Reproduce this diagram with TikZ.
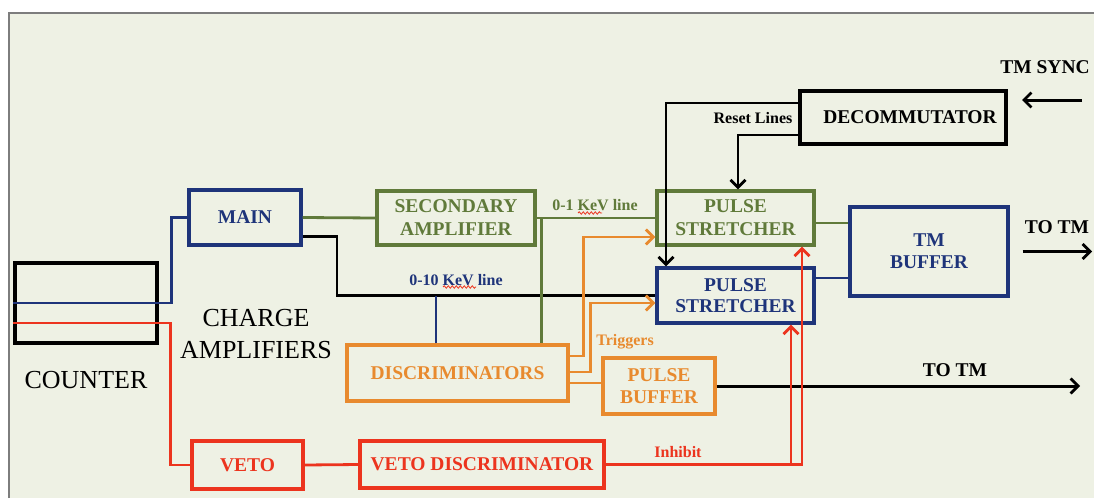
\documentclass[tikz,border=0pt]{standalone}
\usepackage{fontspec}
\setmainfont{Liberation Serif}
\usetikzlibrary{arrows.meta,decorations.pathmorphing}

\definecolor{bggreen}{RGB}{238,241,228}
\definecolor{framegray}{RGB}{125,125,125}
\definecolor{dgreen}{RGB}{96,122,58}
\definecolor{dblue}{RGB}{30,52,122}
\definecolor{dorange}{RGB}{232,138,46}
\definecolor{dred}{RGB}{236,52,30}

\newcommand{\boxfont}{\fontsize{19.5}{23}\selectfont\bfseries}
\newcommand{\labfont}{\fontsize{16}{19}\selectfont\bfseries}

\begin{document}
\begin{tikzpicture}[x=1pt,y=-1pt,
    blk/.style={draw,line width=3.2pt,inner sep=0pt,align=center,font=\boxfont},
    wire/.style={line width=2.8pt},
    tip/.style={-{Straight Barb[length=7.5pt,width=15pt,line width=2.8pt]}},
    lab/.style={font=\labfont,inner sep=0pt},
    squig/.style={dred,line width=0.8pt,decorate,decoration={snake,amplitude=1.2pt,segment length=4pt}}]
    \useasboundingbox (0,0) rectangle (1094,498);
    %background and frame
    \fill [bggreen] (9,13) rectangle (1094,498);
    \draw [framegray,line width=1.5pt] (9,498) -- (9,13) -- (1094,13);

    %boxes
    \node [blk,minimum width=142pt,minimum height=80pt] (counter) at (86,303) {};
    \node [blk,dblue,minimum width=112pt,minimum height=55pt] (main) at (245,217.5) {MAIN};
    \node [blk,dgreen,minimum width=158pt,minimum height=54pt] (secamp) at (456,218) {SECONDARY\\[0pt]AMPLIFIER};
    \node [blk,dorange,minimum width=221pt,minimum height=56pt] (disc) at (457.5,373) {DISCRIMINATORS};
    \node [blk,dorange,minimum width=112pt,minimum height=56pt] (pbuf) at (659,386) {PULSE\\[-1pt]BUFFER};
    \node [blk,dred,minimum width=111pt,minimum height=48pt] (veto) at (247.5,465) {\raisebox{-6pt}{VETO}};
    \node [blk,dred,minimum width=244pt,minimum height=47pt] (vdisc) at (482,464.5) {VETO DISCRIMINATOR};
    \node [blk,dgreen,minimum width=157pt,minimum height=54pt] (psg) at (735.5,218) {PULSE\\[0pt]STRETCHER};
    \node [blk,dblue,minimum width=157pt,minimum height=55pt] (psb) at (735.5,295.5) {PULSE\\[-2pt]STRETCHER};
    \node [blk,dblue,minimum width=158pt,minimum height=89pt] (tmbuf) at (929,251.5) {TM\\[-1pt]BUFFER};
    \node [blk,minimum width=206pt,minimum height=53pt] (decom) at (903,117.5) {\hspace*{14pt}DECOMMUTATOR};

    %plain texts
    \node [font=\fontsize{26}{32}\selectfont] (ctext) at (86,380) {COUNTER};
    \node [font=\fontsize{26}{32}\selectfont,align=center] (catext) at (256,334) {CHARGE\\AMPLIFIERS};
    \node [lab,dgreen] (kev1) at (595,205) {0-1 KeV line};
    \node [lab,dblue] (kev10) at (456,280) {0-10 KeV line};
    \node [lab,dorange] (trig) at (625,342) {Triggers};
    \node [lab,dred] (inh) at (678,452) {Inhibit};
    \node [lab] (reset) at (753,118) {Reset Lines};
    \node [font=\boxfont] (synctext) at (1045,67) {TM SYNC};
    \node [font=\boxfont] (totmtext1) at (1057,227) {TO TM};
    \node [font=\boxfont] (totmtext2) at (955,370) {TO TM};
    \draw [squig] (578,213) -- (602,213);
    \draw [squig] (443,287) -- (476,287);

    %free ends
    \coordinate (k10) at (337,295.5);
    \coordinate (syncin) at (1082,100);
    \coordinate (syncout) at (1022,100);
    \coordinate (totm1) at (1092,251.5);
    \coordinate (totm2) at (1080,386);

    %charge amplifiers
    \draw [wire,dblue] (counter.west) -| ([xshift=-16pt]main.west) -- (main.west);
    \draw [wire,dred] ([yshift=-20pt]counter.west) -| ([xshift=-20pt]veto.west) -- (veto.west);
    %main channel
    \draw [wire,dgreen] (main.east) -- (secamp.west);
    \draw [wire] ([yshift=-19pt]main.east) -| (k10) -- (psb.west);
    \draw [wire,dgreen] (secamp.east) -- (psg.west);
    \draw [wire,dgreen] ([xshift=5pt]secamp.east) -- ([xshift=5pt]secamp.east |- disc.north);
    \draw [wire,dblue] ([xshift=-21.5pt]disc.north) -- ([xshift=-21.5pt]disc.north |- k10);
    %triggers
    \draw [wire,dorange,tip] ([yshift=17pt]disc.east) -- ++(14,0) |- ([yshift=-19pt]psg.west);
    \draw [wire,dorange,tip] ([yshift=1pt]disc.east) -- ++(21,0) |- ([yshift=-7.5pt]psb.west);
    \draw [wire,dorange] ([yshift=3pt]disc.east |- pbuf.west) -- ([yshift=3pt]pbuf.west);
    \draw [wire,tip,line width=3pt] (pbuf.east) -- (totm2);
    %veto
    \draw [wire,dred] (veto.east) -- (vdisc.west);
    \draw [wire,dred,tip] (vdisc.east) -| ([xshift=66.5pt]psg.south);
    \draw [wire,dred,tip] ([xshift=55.5pt]psb.south |- vdisc.east) -- ([xshift=55.5pt]psb.south);
    %stretchers to buffer
    \draw [wire,dgreen] ([yshift=-5pt]psg.east) -- ([yshift=-5pt]psg.east -| tmbuf.west);
    \draw [wire,dblue] ([yshift=17.5pt]psb.east) -- ([yshift=17.5pt]psb.east -| tmbuf.west);
    \draw [wire,tip,line width=3pt] ([xshift=13pt]tmbuf.east) -- (totm1);
    %reset lines
    \draw [wire,tip] ([yshift=14.5pt]decom.west) -| ([xshift=-69.5pt]psb.north);
    \draw [wire,tip] ([yshift=-17.5pt]decom.west) -| ([xshift=2.5pt]psg.north);
    \draw [wire,tip,line width=3pt] (syncin) -- (syncout);
\end{tikzpicture}
\end{document}
